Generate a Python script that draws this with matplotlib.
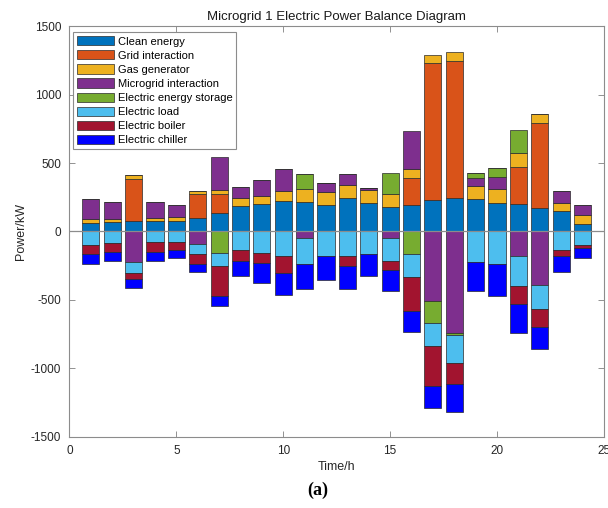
import matplotlib
matplotlib.use('Agg')
import matplotlib.pyplot
import numpy

# hourly power values (kW); positive = supply, negative = consumption
hours = list(range(1, 25))
seriesNames = ['Clean energy', 'Grid interaction', 'Gas generator', 'Microgrid interaction',
               'Electric energy storage', 'Electric load', 'Electric boiler', 'Electric chiller']
clean = [61, 68, 73, 73, 78, 98, 134, 183, 200, 226, 216, 194, 248, 209, 177, 197, 228, 245, 238, 211, 199, 175, 148, 58]
grid = [0, 0, 310, 0, 0, 178, 137, 0, 0, 0, 0, 0, 0, 0, 0, 194, 1000, 1000, 0, 0, 275, 615, 0, 0]
gas = [29, 22, 29, 25, 27, 22, 29, 61, 62, 66, 93, 93, 95, 92, 95, 62, 61, 63, 97, 98, 97, 65, 61, 61]
micro = [149, 122, -226, 114, 88, -90, 246, 80, 112, 167, -44, 68, 75, 15, -50, 282, -506, -741, 59, 87, -178, -394, 83, 76]
storage = [0, 0, 0, 0, 0, 0, -160, 0, 0, 0, 109, 0, 0, 0, 158, -162, -160, -17, 34, 68, 168, 0, 0, 0]
load = [-95, -85, -78, -80, -80, -75, -90, -134, -158, -177, -194, -182, -177, -165, -164, -168, -170, -204, -224, -238, -219, -175, -134, -95]
boiler = [-70, -63, -44, -68, -53, -70, -219, -80, -75, -124, 0, 0, -73, 0, -66, -252, -292, -153, 0, 0, -134, -126, -44, -24]
chiller = [-75, -68, -66, -68, -63, -63, -73, -109, -146, -163, -185, -175, -173, -158, -155, -152, -163, -199, -207, -231, -209, -163, -119, -78]

colors = ['#0072BD', '#D95319', '#EDB120', '#7E2F8E', '#77AC30', '#4DBEEE', '#A2142F', '#0000FF']

matplotlib.pyplot.rcParams['font.family'] = ['Liberation Sans', 'DejaVu Sans']
matplotlib.pyplot.rcParams['axes.unicode_minus'] = False
fig = matplotlib.pyplot.figure(figsize=(6.08, 5.08), dpi=100)
ax = fig.add_axes([0.1143, 0.1398, 0.879, 0.809])

# stack positives upward and negatives downward, same series order (like MATLAB 'stacked')
posBase = numpy.zeros(len(hours))
negBase = numpy.zeros(len(hours))
for name, vals, col in zip(seriesNames, [clean, grid, gas, micro, storage, load, boiler, chiller], colors):
    v = numpy.array(vals, dtype=float)
    bottom = numpy.where(v >= 0, posBase, negBase)
    ax.bar(hours, v, bottom=bottom, width=0.8, color=col, edgecolor='#2a2a2a', linewidth=0.5, label=name)
    posBase = posBase + numpy.where(v > 0, v, 0)
    negBase = negBase + numpy.where(v < 0, v, 0)

ax.axhline(0, color='#8c8c8c', linewidth=0.9, zorder=5)

ax.set_xlim(0, 25)
ax.set_ylim(-1500, 1500)
ax.set_xticks(range(0, 26, 5))
ax.set_yticks(range(-1500, 1501, 500))
ax.tick_params(direction='in', top=True, right=True, length=4, width=0.6, colors='#808080',
               labelcolor='#262626', labelsize=8.5, pad=6)
for s in ax.spines.values():
    s.set_color('#8c8c8c')
    s.set_linewidth(0.8)

ax.set_title('Microgrid 1 Electric Power Balance Diagram', fontsize=9.5, color='#1a1a1a', pad=4)
ax.set_xlabel('Time/h', fontsize=9, color='#262626', labelpad=3)
ax.set_ylabel('Power/kW', fontsize=9, color='#262626', labelpad=3)

leg = ax.legend(loc='upper left', bbox_to_anchor=(0.007, 0.985), borderaxespad=0, fontsize=8,
                handlelength=3.3, handleheight=0.9, labelspacing=0.33, handletextpad=0.35,
                borderpad=0.35, fancybox=False, framealpha=1)
leg.get_frame().set_edgecolor('#8c8c8c')
leg.get_frame().set_linewidth(0.8)

fig.text(0.522, 0.035, '(a)', fontsize=13, fontweight='bold', family=['Liberation Serif', 'DejaVu Serif'],
         ha='center', va='center')

matplotlib.pyplot.savefig('out.png', dpi=100)
